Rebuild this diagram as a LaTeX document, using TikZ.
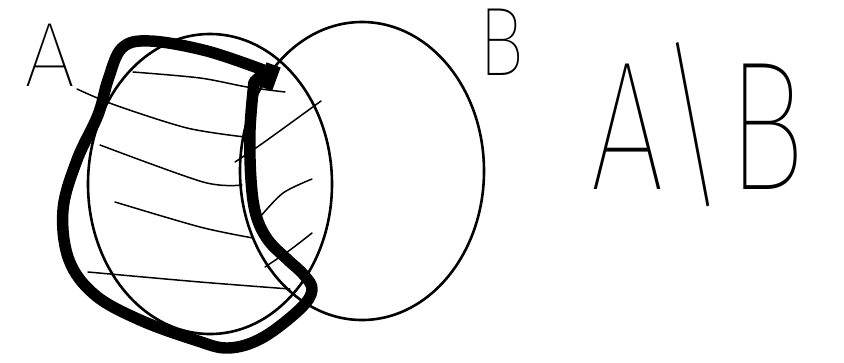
\documentclass[tikz,border=0pt]{standalone}
\usepackage{fontspec}
\IfFontExistsTF{Fira Sans Thin}{\newfontfamily\handfont{Fira Sans Thin}}{%
 \IfFontExistsTF{Poppins Thin}{\newfontfamily\handfont{Poppins Thin}}{%
  \IfFontExistsTF{Lato Hairline}{\newfontfamily\handfont{Lato Hairline}}{%
   \IfFontExistsTF{Fira Sans Light}{\newfontfamily\handfont{Fira Sans Light}}{%
    \IfFontExistsTF{Lato Light}{\newfontfamily\handfont{Lato Light}}{%
     \newfontfamily\handfont{Fira Sans}}}}}}
\begin{document}
\begin{tikzpicture}[
    x=1bp, y=-1bp,
    circ/.style  = {draw=black, line width=2.6pt},
    hatch/.style = {draw=black, line width=1.5pt, line cap=round},
    bold/.style  = {draw=black, line width=11.5pt, line join=round, line cap=round},
    hand/.style  = {font=\handfont, inner sep=0pt, text=black},
  ]
  \useasboundingbox (0,0) rectangle (844,362);

  %% the two sets
  \draw[circ] (210,184) ellipse [x radius=122, y radius=150];
  \draw[circ] (362,171) ellipse [x radius=122, y radius=149];

  %% hatching of A
  \draw[hatch] plot[smooth] coordinates {(133,72) (200,78) (247,87) (285,92)};
  \draw[hatch] plot[smooth] coordinates {(77,89) (115,105) (187,128) (245,137)};
  \draw[hatch] plot[smooth] coordinates {(100,145) (203,182) (242,185)};
  \draw[hatch] plot[smooth] coordinates {(115,202) (200,227) (253,238)};
  \draw[hatch] plot[smooth] coordinates {(88,272) (200,282) (290,289)};
  \draw[hatch] plot[smooth] coordinates {(235,162) (263,143) (321,101)};
  \draw[hatch] plot[smooth] coordinates {(260,217) (283,193) (312,179)};
  \draw[hatch] plot[smooth] coordinates {(265,267) (290,250) (312,233)};

  %% thick outline of the difference
  \draw[bold] plot[smooth, tension=0.6] coordinates {(266,71) (207,51) (150,41)
      (122,48) (108,80) (98,115) (77,160) (63,210) (69,260) (95,295) (140,320)
      (195,340) (228,348) (262,338) (300,309) (312,290) (304,275) (288,260)
      (268,240) (256,215) (251,180) (250,130) (254,82)} -- cycle;
  \fill[rotate around={-20:(269,76)}] (262,64) rectangle (277,89);

  %% labels
  \node[hand, font=\handfont\fontsize{92}{92}\selectfont] (labelA) at (50,55) {A};
  \node[hand, font=\handfont\fontsize{98}{98}\selectfont, xscale=0.8] (labelB) at (501,42) {B};
  \node[hand, font=\handfont\fontsize{185}{185}\selectfont, xscale=0.72] (diff) at (698,125) {A\textbackslash B};
\end{tikzpicture}
\end{document}
